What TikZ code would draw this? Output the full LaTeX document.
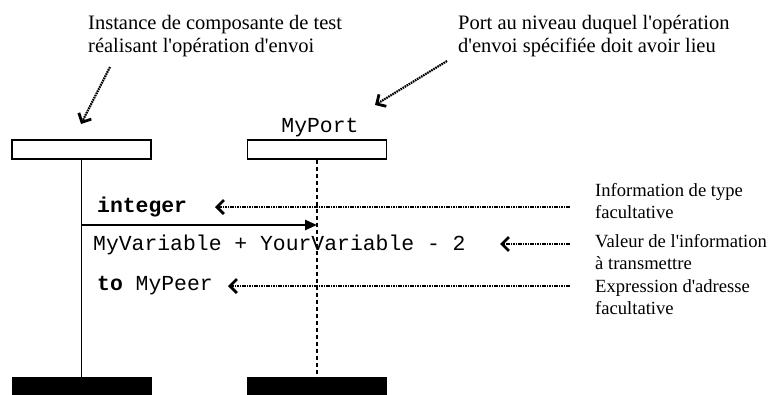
\documentclass[tikz,border=0pt]{standalone}
\usepackage{fontspec}
\setmainfont{Liberation Serif}[Ligatures=TeXOff]
\setmonofont{Liberation Mono}
\usetikzlibrary{arrows.meta,positioning,calc}

\begin{document}
\begin{tikzpicture}[
    x=1pt,
    y=-1pt,
    head/.style={
        draw=black,
        line width=1.2pt,
        fill=white,
        inner sep=0pt,
        minimum width=139pt,
        minimum height=19pt
    },
    foot/.style={
        draw=black,
        fill=black,
        inner sep=0pt,
        minimum width=139pt,
        minimum height=17pt
    },
    life/.style={line width=1.6pt},
    portline/.style={line width=1.8pt,dash pattern=on 4pt off 3pt},
    msg/.style={-{Triangle[length=12pt,width=10pt]},line width=2.4pt},
    note/.style={
        -{Straight Barb[length=7pt,width=14pt,line width=2.8pt]},
        line width=2.2pt,
        dash pattern=on 1.6pt off 0.8pt
    },
    code/.style={font=\fontsize{21.4}{24}\selectfont\ttfamily,inner sep=0pt,anchor=base west},
    toplabel/.style={font=\fontsize{20.5}{23}\selectfont,align=left,inner sep=0pt,anchor=north west},
    sidelabel/.style={font=\fontsize{18.6}{22}\selectfont,align=left,inner sep=0pt,anchor=north west}
]
\useasboundingbox (0,0) rectangle (771,394);

% Instance heads and ends.
\node[head] (inst) at (81.5,149.5) {};
\node[head] (port) at (317,149.5) {};
\node[foot] (instend) at (81.5,385.5) {};
\node[foot] (portend) at (317,385.5) {};
\node[code,anchor=base] (portname) at (320,132) {MyPort};

\draw[life] (inst.south) -- (instend.north);
\draw[portline] (port.south) -- (portend.north);

% Send event.
\coordinate (send) at (81.5,225);
\draw[msg] (send) -- (send -| port.south);

\node[code] (type) at (97,212) {\textbf{integer}};
\node[code] (value) at (93,250) {MyVariable + YourVariable - 2};
\node[code] (peer) at (97,290) {\textbf{to} MyPeer};

% Top comments.
\node[toplabel] (instnote) at (88,15) {Instance de composante de test\\réalisant l'opération d'envoi};
\node[toplabel] (portnote) at (458,15) {Port au niveau duquel l'opération\\d'envoi spécifiée doit avoir lieu};

\coordinate (instfrom) at (110,67);
\coordinate (instto) at (81,124);
\coordinate (portfrom) at (447,61);
\coordinate (portto) at (375,105);
\draw[note] (instfrom) -- (instto);
\draw[note] (portfrom) -- (portto);

% Side comments.
\node[sidelabel] (typenote) at (595,183) {Information de type\\facultative};
\node[sidelabel] (valuenote) at (595,234) {Valeur de l'information\\à transmettre};
\node[sidelabel] (peernote) at (595,279) {Expression d'adresse\\facultative};

\coordinate (typefrom) at (570,207);
\coordinate (valuefrom) at (570,244);
\coordinate (peerfrom) at (570,286);
\coordinate (typeto) at (215,207);
\coordinate (valueto) at (500,244);
\coordinate (peerto) at (228,286);
\draw[note] (typefrom) -- (typeto);
\draw[note] (valuefrom) -- (valueto);
\draw[note] (peerfrom) -- (peerto);

\end{tikzpicture}
\end{document}
